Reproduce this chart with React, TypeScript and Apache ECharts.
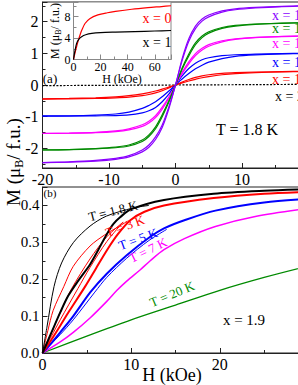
import React, { useEffect, useRef } from "react";
import * as echarts from "echarts";

// ---------- Panel (a): M(H) loops at T = 1.8 K ----------
const H_A = [-20, -16, -12, -9, -7, -5, -4, -3, -2, -1, 0, 1, 2, 3, 4, 5, 7, 9, 12, 16, 20];
const A_LABELS = ["x = 1.5", "x = 1.6", "x = 1.7", "x = 1.8", "x = 1.9", "x = 2"];
const PURPLE_U = [-2.4475, -2.425, -2.38, -2.315, -2.23, -2.05, -1.895, -1.64, -1.26, -0.69, 0, 0.83, 1.46, 1.86, 2.085, 2.21, 2.34, 2.405, 2.45, 2.485, 2.5025];
const PURPLE_L = [-2.4525, -2.435, -2.4, -2.345, -2.27, -2.11, -1.965, -1.72, -1.34, -0.75, 0, 0.77, 1.38, 1.78, 2.015, 2.15, 2.3, 2.375, 2.43, 2.475, 2.4975];
const GREEN_U = [-2.048, -2.037, -2.005, -1.96, -1.895, -1.737, -1.575, -1.32, -0.94, -0.5, 0, 0.54, 0.98, 1.33, 1.545, 1.682, 1.815, 1.88, 1.925, 1.952, 1.971];
const GREEN_L = [-2.052, -2.043, -2.015, -1.98, -1.925, -1.783, -1.625, -1.38, -1.0, -0.54, 0, 0.5, 0.92, 1.27, 1.495, 1.638, 1.785, 1.86, 1.915, 1.948, 1.969];
const MAG_U = [-1.5285, -1.5175, -1.495, -1.45, -1.3825, -1.255, -1.1425, -0.97, -0.7, -0.38, 0, 0.4, 0.73, 0.99, 1.1575, 1.275, 1.3975, 1.46, 1.505, 1.5325, 1.5515];
const MAG_L = [-1.5315, -1.5225, -1.505, -1.47, -1.4175, -1.305, -1.1975, -1.03, -0.76, -0.42, 0, 0.36, 0.67, 0.93, 1.1025, 1.225, 1.3625, 1.44, 1.495, 1.5275, 1.5485];
const BLUE_U = [-0.977, -0.97, -0.948, -0.915, -0.855, -0.74, -0.645, -0.53, -0.37, -0.19, 0, 0.29, 0.52, 0.69, 0.795, 0.86, 0.925, 0.955, 0.972, 0.99, 1.003];
const BLUE_L = [-0.983, -0.98, -0.972, -0.965, -0.945, -0.88, -0.815, -0.71, -0.53, -0.29, 0, 0.19, 0.36, 0.51, 0.625, 0.72, 0.835, 0.905, 0.948, 0.98, 0.997];
const RED_U = [-0.437, -0.425, -0.405, -0.375, -0.338, -0.282, -0.24, -0.19, -0.13, -0.065, 0, 0.095, 0.175, 0.24, 0.29, 0.323, 0.367, 0.39, 0.41, 0.423, 0.433];
const RED_L = [-0.443, -0.435, -0.425, -0.405, -0.382, -0.338, -0.3, -0.25, -0.18, -0.095, 0, 0.065, 0.125, 0.18, 0.23, 0.267, 0.323, 0.36, 0.39, 0.413, 0.427];
const H_X2 = [-20, 0, 20];
const M_X2 = [-0.02, 0, 0.02];

// ---------- Inset: x = 0 and x = 1 ----------
const H_IN0 = [0, 1, 2, 3.6, 5, 6, 8.5, 12, 18, 25, 31, 43, 55, 65, 72];
const M_IN0 = [0, 1.1, 2.1, 3.6, 4.7, 5.4, 6.7, 7.6, 8.3, 8.7, 8.95, 9.35, 9.65, 9.85, 10.0];
const H_IN1 = [0, 1, 2.3, 4, 6, 9, 13.5, 20, 31, 45, 60, 72];
const M_IN1 = [0, 1.5, 3.0, 3.8, 4.25, 4.6, 4.85, 5.0, 5.1, 5.2, 5.3, 5.4];

// ---------- Panel (b): x = 1.9, several temperatures ----------
const H_K18_THIN = [0, 0.5, 1.3, 2.15, 3.5, 5.36, 7.2, 10.2, 12];
const M_K18_THIN = [0, 0.07, 0.18, 0.244, 0.3, 0.344, 0.371, 0.393, 0.4];
const H_K18 = [0, 1, 2, 2.9, 4, 5.36, 6.3, 7.25, 8, 8.75, 10, 13.7, 19.3, 25, 30];
const M_K18 = [0, 0.055, 0.11, 0.155, 0.195, 0.24, 0.28, 0.322, 0.35, 0.368, 0.39, 0.415, 0.432, 0.44, 0.444];
const H_K3_V = [0, 0.6, 1.2, 2.4, 3.47, 5.36, 7, 8.4, 9.5];
const M_K3_V = [0, 0.06, 0.115, 0.18, 0.235, 0.29, 0.32, 0.34, 0.356];
const H_K3_A = [0, 1, 2, 3.3, 5.36, 7.25, 9.1];
const M_K3_A = [0, 0.055, 0.11, 0.175, 0.255, 0.315, 0.355];
const H_K3_B = [0, 1, 2, 4.0, 5.36, 7.25, 9.1];
const M_K3_B = [0, 0.045, 0.09, 0.175, 0.232, 0.302, 0.355];
const H_K3 = [0, 1, 2, 3, 4.8, 6, 7.25, 8.5, 9.9, 11.5, 13.7, 19.3, 25, 30];
const M_K3 = [0, 0.036, 0.074, 0.113, 0.18, 0.228, 0.278, 0.322, 0.36, 0.383, 0.4, 0.42, 0.432, 0.437];
const H_K5 = [0, 1, 2, 3.47, 5.4, 7.25, 9.5, 12.15, 13.7, 16, 19.5, 25, 30];
const M_K5 = [0, 0.027, 0.056, 0.1, 0.165, 0.215, 0.265, 0.315, 0.338, 0.36, 0.386, 0.408, 0.418];
const H_K5_B = [0, 2, 3.47, 5.9, 7.25, 9.5, 12, 14];
const M_K5_B = [0, 0.05, 0.09, 0.165, 0.205, 0.257, 0.305, 0.335];
const H_K7 = [0, 2, 3.47, 5.36, 7.25, 8.4, 9.5, 11, 12.15, 13.7, 16, 19.5, 24, 30];
const M_K7 = [0, 0.03, 0.056, 0.095, 0.14, 0.17, 0.195, 0.225, 0.25, 0.28, 0.31, 0.343, 0.37, 0.392];
const H_K20 = [0, 5, 10, 15, 20, 25, 30];
const M_K20 = [0, 0.046, 0.09, 0.13, 0.17, 0.205, 0.236];
const B_LABELS = ["T = 1.8 K", "T = 3 K", "T = 5 K", "T = 7 K", "T = 20 K"];

const SERIF = "Liberation Serif";
const C_PURPLE = "#8a00ff";
const C_GREEN = "#008a00";
const C_MAG = "#ff00ff";
const C_BLUE = "#0000ff";
const C_RED = "#ff0000";

function zip(hs: number[], ms: number[]) {
  return hs.map((h, i) => [h, ms[i]]);
}

function ln(idx: number, hs: number[], ms: number[], color: string, width: number, type: any = "solid") {
  return {
    type: "line",
    xAxisIndex: idx,
    yAxisIndex: idx,
    data: zip(hs, ms),
    showSymbol: false,
    symbol: "none",
    smooth: 0.3,
    silent: true,
    lineStyle: { color, width, type },
  };
}

function axisBase(fontSize: number, axisColor: string, margin = 3) {
  return {
    axisLine: { show: true, onZero: false, lineStyle: { color: axisColor, width: 1 } },
    axisTick: { show: true, inside: true, length: 5, lineStyle: { color: axisColor } },
    minorTick: { show: true, splitNumber: 2, length: 3, lineStyle: { color: axisColor } },
    splitLine: { show: false },
    axisLabel: { color: "#000", fontFamily: SERIF, fontSize, margin, showMaxLabel: false },
  };
}

function txt(x: number, y: number, text: string, fontSize: number, color = "#000", rotation = 0, align = "center") {
  return {
    type: "text",
    x,
    y,
    rotation,
    z: 100,
    silent: true,
    style: { text, fill: color, fontFamily: SERIF, fontSize, align, verticalAlign: "middle" },
  };
}

let measureCtx: CanvasRenderingContext2D | null = null;
function measure(text: string, size: number) {
  if (!measureCtx) measureCtx = document.createElement("canvas").getContext("2d");
  if (!measureCtx) return text.length * size * 0.5;
  measureCtx.font = `${size}px "${SERIF}"`;
  return measureCtx.measureText(text).width;
}

// Rotated "M (μB/ f.u.)" with subscript B, built from plain texts in a rotated group
function muTitle(cx: number, cy: number, fs: number, sub: number) {
  const t1 = "M (μ";
  const t2 = "B";
  const t3 = "/ f.u.)";
  const w1 = measure(t1, fs);
  const w2 = measure(t2, sub);
  const w3 = measure(t3, fs);
  const start = -(w1 + w2 + w3) / 2;
  return {
    type: "group",
    x: cx,
    y: cy,
    rotation: Math.PI / 2,
    z: 100,
    silent: true,
    children: [
      txt(start, 0, t1, fs, "#000", 0, "left"),
      txt(start + w1, fs * 0.3, t2, sub, "#000", 0, "left"),
      txt(start + w1 + w2, 0, t3, fs, "#000", 0, "left"),
    ],
  };
}

export default function App() {
  const ref = useRef<HTMLDivElement>(null);
  useEffect(() => {
    if (!ref.current) return;
    const chart = echarts.init(ref.current, undefined, { renderer: "svg" });
    const mainC = "#222";
    const inC = "#888";
    const option: any = {
      animation: false,
      backgroundColor: "#fff",
      grid: [
        { left: 42.5, top: 2, width: 266, height: 166, show: true, borderColor: mainC, borderWidth: 1 },
        { left: 42.5, top: 187, width: 266, height: 166, show: true, borderColor: mainC, borderWidth: 1 },
        { left: 73.5, top: 2, width: 97.5, height: 57.5, show: true, borderColor: inC, borderWidth: 1, backgroundColor: "#fff" },
      ],
      xAxis: [
        { type: "value", gridIndex: 0, min: -20, max: 20, interval: 10, ...axisBase(16, mainC) },
        { type: "value", gridIndex: 1, min: 0, max: 30, interval: 10, ...axisBase(16, mainC) },
        { type: "value", gridIndex: 2, min: 0, max: 72, interval: 20, ...axisBase(12, inC, 1) },
      ],
      yAxis: [
        {
          type: "value", gridIndex: 0, min: -2.62, max: 2.62, splitNumber: 5, ...axisBase(16, mainC),
          axisLabel: { color: "#000", fontFamily: SERIF, fontSize: 16, margin: 4, showMaxLabel: false, showMinLabel: false },
        },
        {
          type: "value", gridIndex: 1, min: 0, max: 0.45, interval: 0.1, ...axisBase(15, mainC),
          axisLabel: { color: "#000", fontFamily: SERIF, fontSize: 15, margin: 3, showMaxLabel: false, formatter: (v: number) => v.toFixed(1) },
        },
        { type: "value", gridIndex: 2, min: 0, max: 10.7, interval: 4, ...axisBase(12, inC, 3) },
      ],
      series: [
        ln(0, H_X2, M_X2, "#000", 1.2, [2, 1.5]),
        ln(0, H_A, RED_U, C_RED, 1.2),
        ln(0, H_A, RED_L, C_RED, 1.2),
        ln(0, H_A, BLUE_U, C_BLUE, 1.2),
        ln(0, H_A, BLUE_L, C_BLUE, 1.2),
        ln(0, H_A, MAG_U, C_MAG, 1.2),
        ln(0, H_A, MAG_L, C_MAG, 1.2),
        ln(0, H_A, GREEN_U, C_GREEN, 1.2),
        ln(0, H_A, GREEN_L, C_GREEN, 1.2),
        ln(0, H_A, PURPLE_U, C_PURPLE, 1.2),
        ln(0, H_A, PURPLE_L, C_PURPLE, 1.2),
        ln(2, H_IN0, M_IN0, C_RED, 1.2),
        ln(2, H_IN1, M_IN1, "#000", 1.2),
        ln(1, H_K20, M_K20, C_GREEN, 1.3),
        ln(1, H_K7, M_K7, C_MAG, 1.5),
        ln(1, H_K5_B, M_K5_B, C_BLUE, 1),
        ln(1, H_K5, M_K5, C_BLUE, 2),
        ln(1, H_K3_V, M_K3_V, C_RED, 1),
        ln(1, H_K3_A, M_K3_A, C_RED, 1),
        ln(1, H_K3_B, M_K3_B, C_RED, 1),
        ln(1, H_K3, M_K3, C_RED, 2),
        ln(1, H_K18_THIN, M_K18_THIN, "#000", 1),
        ln(1, H_K18, M_K18, "#000", 2),
      ],
      graphic: [
        muTitle(13, 162, 19, 12),
        muTitle(55, 31, 12, 8),
        txt(172, 375, "H (kOe)", 18),
        txt(122, 79, "H (kOe)", 12),
        txt(50, 78, "(a)", 13),
        txt(50, 193, "(b)", 11),
        txt(247, 129, "T = 1.8 K", 16),
        txt(157, 18, "x = 0", 14, C_RED),
        txt(157, 42, "x = 1", 14, "#000"),
        txt(272, 15, A_LABELS[0], 14, C_PURPLE, 0, "left"),
        txt(272, 28, A_LABELS[1], 14, C_GREEN, 0, "left"),
        txt(272, 43, A_LABELS[2], 14, C_MAG, 0, "left"),
        txt(272, 62, A_LABELS[3], 14, C_BLUE, 0, "left"),
        txt(272, 79, A_LABELS[4], 14, C_RED, 0, "left"),
        txt(275, 96, A_LABELS[5], 14, "#000", 0, "left"),
        txt(113, 211, B_LABELS[0], 13, "#000", 0.25),
        txt(125, 226, B_LABELS[1], 13, C_RED, 0.35),
        txt(138, 239, B_LABELS[2], 13, C_BLUE, 0.35),
        txt(148, 250, B_LABELS[3], 13, C_MAG, 0.45),
        txt(172, 294, B_LABELS[4], 13, C_GREEN, 0.4),
        txt(244, 320, "x = 1.9", 15),
      ],
    };
    chart.setOption(option);
    return () => chart.dispose();
  }, []);
  return (
    <div style={{ position: "fixed", left: 0, top: 0, width: 298, height: 385, overflow: "hidden", background: "#fff" }}>
      <div ref={ref} style={{ width: 330, height: 385 }} />
    </div>
  );
}
